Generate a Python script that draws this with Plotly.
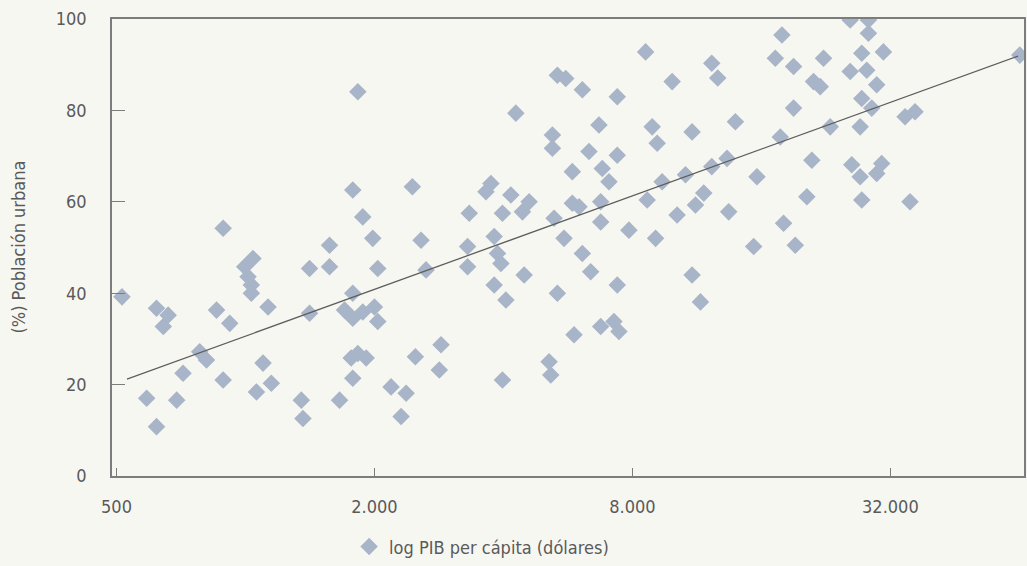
import plotly.graph_objects as go

# GDP per capita (dollars, log axis) and urban population (%)
gdp = [515, 620, 660, 643, 588, 620, 691, 715, 782, 811,
       887, 856, 919, 887, 996, 1041, 1014, 1032, 1032, 1129,
       1099, 1061, 1149, 1350, 1362, 1411, 1411, 1571, 1571, 1829,
       1780, 1878, 1982, 2036, 1780, 1703, 1780, 1878, 2000, 2036,
       1765, 1829, 1913, 1780, 1658, 2187, 2371, 2308, 2452, 2492,
       2569, 2639, 2860, 2834, 3329, 3299, 3299, 3641, 3740, 3979,
       3806, 3874, 3946, 3806, 4053, 3979, 4163, 4430, 4592, 4276,
       4471, 5251, 5540, 5345, 5112, 5159, 5204, 5204, 5345, 5591,
       6112, 5792, 5792, 6005, 6112, 6393, 5846, 6335, 6684, 6804,
       7053, 6746, 6746, 6746, 7244, 7441, 7374, 7374, 7374, 7851,
       8587, 8661, 8896, 9138, 9060, 9386, 9903, 10172, 10641, 11024,
       11024, 11532, 11227, 11738, 12253, 12654, 12253, 13301, 13913, 13423,
       15623, 15349, 17711, 18026, 19194, 17242, 17865, 19020, 19020, 20428,
       20983, 21174, 21950, 22342, 23159, 25781, 28440, 28440, 27436, 30820,
       25781, 28184, 29736, 27436, 28949, 27202, 34626, 36532, 26003, 27202,
       29736, 30540, 27436, 35566, 64140]
urban = [39.2, 36.7, 35.2, 32.7, 17.0, 10.8, 16.6, 22.5, 27.2, 25.4,
         54.2, 36.3, 33.4, 21.0, 45.8, 47.6, 43.6, 41.8, 40.0, 37.0,
         24.7, 18.4, 20.3, 16.6, 12.6, 35.6, 45.4, 50.5, 45.8, 84.1,
         62.6, 56.7, 52.0, 45.4, 40.0, 36.3, 34.5, 35.9, 37.0, 33.8,
         25.8, 26.8, 25.8, 21.4, 16.6, 19.5, 18.1, 13.0, 63.3, 26.1,
         51.6, 45.1, 28.7, 23.2, 57.5, 50.2, 45.8, 62.2, 64.0, 57.5,
         52.4, 48.7, 46.5, 41.8, 38.5, 21.0, 61.5, 57.8, 60.0, 79.4,
         44.0, 56.4, 52.0, 40.0, 25.0, 22.1, 74.6, 71.7, 87.7, 87.0,
         84.5, 66.6, 59.7, 58.9, 48.7, 44.7, 30.9, 71.0, 76.8, 67.3,
         64.4, 60.0, 55.6, 32.7, 33.8, 31.6, 41.8, 83.0, 70.2, 53.8,
         92.8, 60.4, 76.4, 72.8, 52.0, 64.4, 86.3, 57.1, 65.9, 75.3,
         44.0, 38.1, 59.3, 61.9, 90.3, 87.1, 67.7, 69.5, 77.5, 57.8,
         65.5, 50.2, 74.2, 55.3, 50.5, 91.4, 96.5, 89.6, 80.5, 61.1,
         69.1, 86.3, 85.2, 91.4, 76.4, 99.8, 99.8, 96.9, 92.5, 92.8,
         88.5, 88.8, 85.6, 82.6, 80.5, 76.4, 78.6, 79.7, 68.1, 65.5,
         66.2, 68.4, 60.4, 60.0, 92.1]

# Trend line
trend_gdp = [529, 63560]
trend_urban = [21.2, 91.9]

x_tick_vals = [500, 2000, 8000, 32000]
x_tick_text = ["500", "2.000", "8.000", "32.000"]
y_tick_vals = [0, 20, 40, 60, 80, 100]

FONT = "Liberation Sans Narrow, Arial Narrow, DejaVu Sans Condensed, sans-serif"
TXT = "#5a5a5a"
BG = "#f7f7f2"
AX = "#7c7c7c"

fig = go.Figure()
fig.add_trace(go.Scatter(
    x=gdp, y=urban, mode="markers",
    name="log PIB per cápita (dólares)",
    marker=dict(symbol="diamond", size=13.5, color="#a8b5c8", line=dict(width=0)),
))
fig.add_trace(go.Scatter(
    x=trend_gdp, y=trend_urban, mode="lines",
    line=dict(color="#5e5e5e", width=1.3),
    showlegend=False, hoverinfo="skip",
))

fig.update_layout(
    width=1027, height=566,
    margin=dict(l=112, r=1, t=19, b=90),
    paper_bgcolor=BG, plot_bgcolor=BG,
    font=dict(family=FONT, size=18, color=TXT),
    showlegend=True,
    legend=dict(orientation="h", x=0.26, xanchor="left", y=-0.155, yanchor="middle",
                bgcolor="rgba(0,0,0,0)", font=dict(family=FONT, size=18, color=TXT),
                itemwidth=30),
    xaxis=dict(
        type="log", range=[2.6885, 4.8170],
        tickvals=x_tick_vals, ticktext=x_tick_text,
        showgrid=False, zeroline=False,
        showline=True, linecolor=AX, linewidth=1.5, mirror=True,
        ticks="inside", ticklen=8, tickcolor=AX, tickwidth=1,
        ticklabelstandoff=14,
        tickfont=dict(family=FONT, size=18, color=TXT),
    ),
    yaxis=dict(
        range=[0, 100], tickvals=y_tick_vals,
        showgrid=False, zeroline=False,
        showline=True, linecolor=AX, linewidth=1.5, mirror=True,
        ticks="inside", ticklen=13, tickcolor=AX, tickwidth=1,
        ticklabelstandoff=20,
        tickfont=dict(family=FONT, size=18, color=TXT),
    ),
    annotations=[dict(
        text="(%) Población urbana", xref="paper", yref="paper",
        x=-0.103, y=0.5, xanchor="center", yanchor="middle",
        textangle=-90, showarrow=False,
        font=dict(family=FONT, size=18, color=TXT),
    )],
)

fig.write_html("out.html")
